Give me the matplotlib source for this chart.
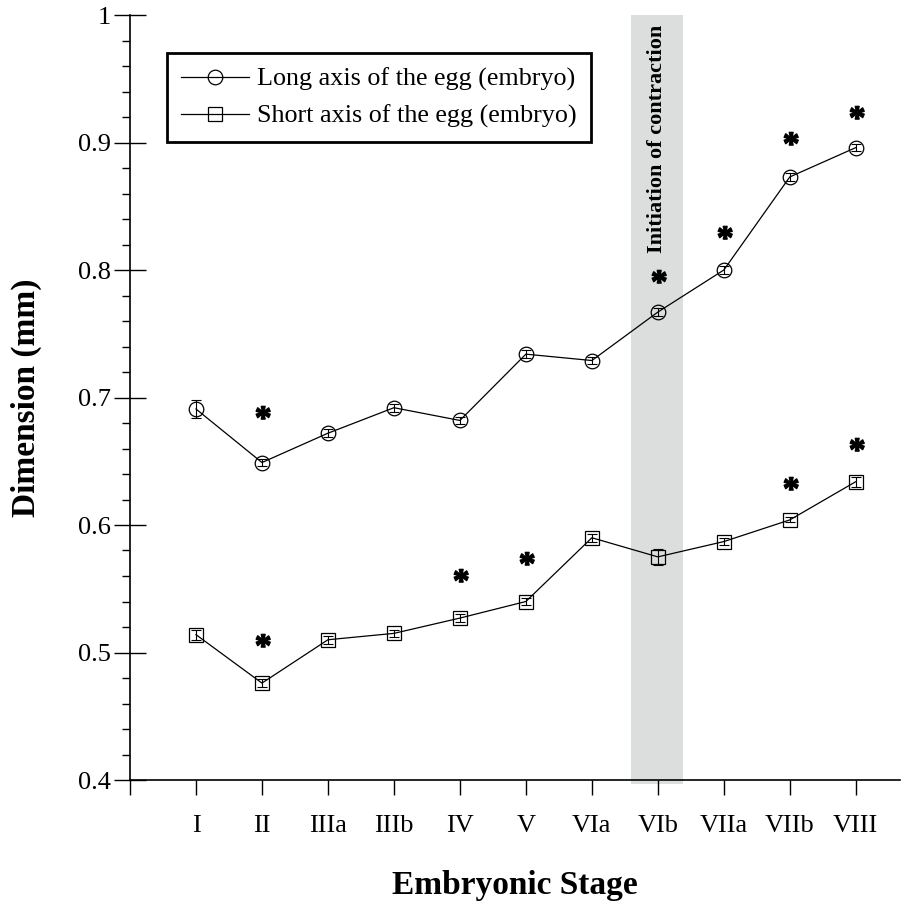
import matplotlib
matplotlib.use('Agg')
import matplotlib.pyplot as plt
import numpy as np
from matplotlib.textpath import TextPath
from matplotlib.font_manager import FontProperties
from matplotlib.ticker import MultipleLocator

plt.rcParams['font.family'] = ['Liberation Serif', 'DejaVu Serif']

# data
stages = ['I', 'II', 'IIIa', 'IIIb', 'IV', 'V', 'VIa', 'VIb', 'VIIa', 'VIIb', 'VIII']
long_axis = [0.691, 0.649, 0.672, 0.692, 0.682, 0.734, 0.729, 0.767, 0.800, 0.873, 0.896]
long_err = [0.007, 0.003, 0.003, 0.003, 0.003, 0.003, 0.003, 0.003, 0.003, 0.003, 0.003]
short_axis = [0.514, 0.476, 0.510, 0.515, 0.527, 0.540, 0.590, 0.575, 0.587, 0.604, 0.634]
short_err = [0.004, 0.003, 0.003, 0.003, 0.003, 0.003, 0.003, 0.006, 0.003, 0.002, 0.004]

# significance stars (stage index, height)
long_star_idx = [1, 7, 8, 9, 10]
long_star_y = [0.685, 0.791, 0.826, 0.900, 0.920]
short_star_idx = [1, 4, 5, 9, 10]
short_star_y = [0.506, 0.557, 0.570, 0.629, 0.660]

x = np.arange(1, len(stages) + 1)

# a centred bold asterisk as marker
star = TextPath((0, 0), '*', prop=FontProperties(family='Liberation Serif', weight='bold'))
v = star.vertices.copy()
v -= (v.max(axis=0) + v.min(axis=0)) / 2
star = matplotlib.path.Path(v, star.codes)

fig = plt.figure(figsize=(9.16, 9.05), dpi=100)
ax = fig.add_axes([130/916, 125/905, 770/916, 765/905])

ax.axvspan(7.6, 8.38, ymin=-0.005, ymax=1, color='#dcdddd', lw=0, zorder=0, clip_on=False)
ax.text(7.98, 0.992, 'Initiation of contraction', rotation=90, ha='center', va='top',
        fontsize=16, fontweight='bold', zorder=1)

ax.plot(x, long_axis, color='black', lw=0.9, marker='o', ms=10.5, mfc='none',
        mec='black', mew=0.9, label='Long axis of the egg (embryo)', zorder=3)
ax.plot(x, short_axis, color='black', lw=0.9, marker='s', ms=10.5, mfc='none',
        mec='black', mew=0.9, label='Short axis of the egg (embryo)', zorder=3)
ax.errorbar(x, long_axis, yerr=long_err, fmt='none', ecolor='black', elinewidth=0.8,
            capsize=3.5, capthick=0.8, zorder=4)
ax.errorbar(x, short_axis, yerr=short_err, fmt='none', ecolor='black', elinewidth=0.8,
            capsize=3.5, capthick=0.8, zorder=4)

ax.plot(x[long_star_idx], long_star_y, ls='none', marker=star, ms=16, color='black', zorder=5)
ax.plot(x[short_star_idx], short_star_y, ls='none', marker=star, ms=16, color='black', zorder=5)

ax.set_xlim(0, 11.67)
ax.set_ylim(0.4, 1.0)
ax.set_xticks(np.arange(0, 12))
ax.set_xticklabels([''] + stages, fontsize=19)
ax.set_yticks([0.4, 0.5, 0.6, 0.7, 0.8, 0.9, 1.0])
ax.set_yticklabels(['0.4', '0.5', '0.6', '0.7', '0.8', '0.9', '1'], fontsize=19)
ax.yaxis.set_minor_locator(MultipleLocator(0.02))
ax.tick_params(axis='x', direction='out', length=11, width=1, pad=14)
ax.tick_params(axis='y', which='major', direction='inout', length=23, width=1, pad=2)
ax.tick_params(axis='y', which='minor', direction='out', length=6, width=1)

for s in ['top', 'right']:
    ax.spines[s].set_visible(False)
for s in ['left', 'bottom']:
    ax.spines[s].set_linewidth(1.2)

ax.set_xlabel('Embryonic Stage', fontsize=24, fontweight='bold', labelpad=24)
ax.set_ylabel('Dimension (mm)', fontsize=24, fontweight='bold', labelpad=26)

leg = ax.legend(loc='upper left', bbox_to_anchor=(0.048, 0.950), borderaxespad=0,
                fontsize=18.8, frameon=True, fancybox=False, edgecolor='black',
                framealpha=1, borderpad=0.55, handlelength=2.6, handletextpad=0.3,
                labelspacing=0.5)
leg.get_frame().set_linewidth(2)

fig.savefig('out.png', dpi=100)
